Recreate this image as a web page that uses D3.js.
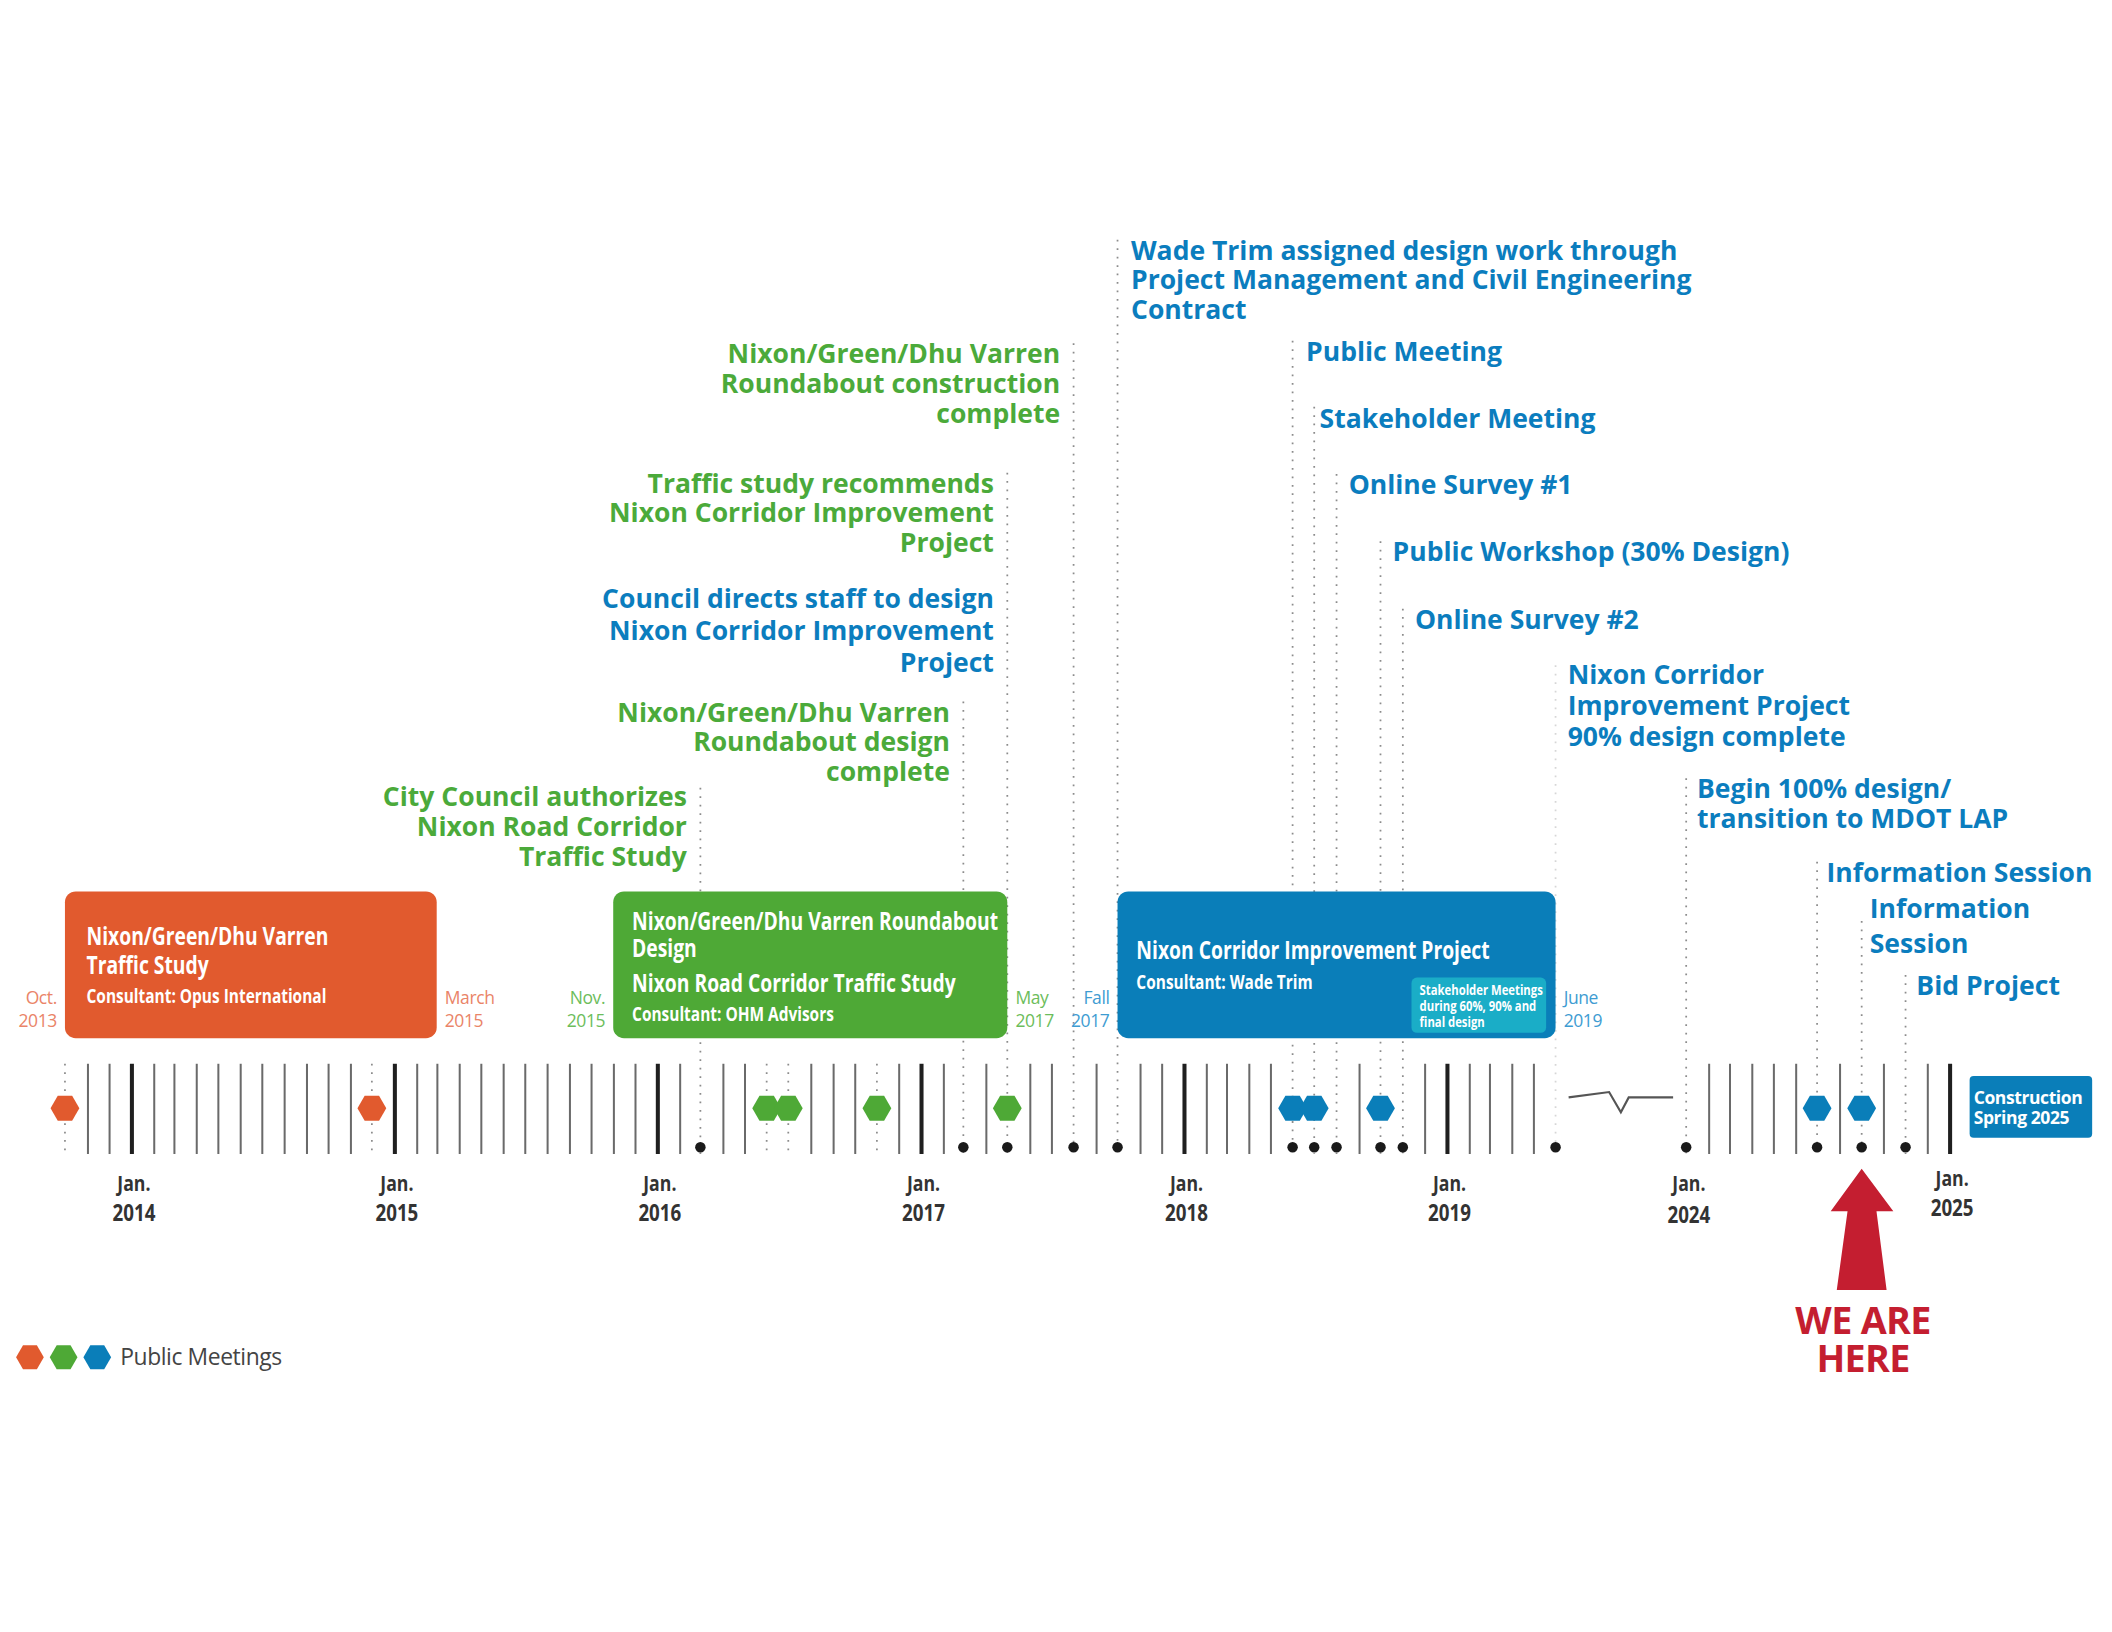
<!DOCTYPE html>
<html>
<head>
<meta charset="utf-8">
<script src="https://cdn.jsdelivr.net/npm/d3@7"></script>
<style>
  html, body { margin: 0; padding: 0; background: #fff; }
  svg { display: block; }
  .lbl { font-family: "Open Sans", "Noto Sans", sans-serif; font-weight: 700; font-size: 19.7px; }
  .box { font-family: "Open Sans", "Noto Sans", sans-serif; font-weight: 700; fill: #fff; }
  .date { font-family: "Open Sans", "Noto Sans", sans-serif; font-size: 13px; letter-spacing: -0.3px; }
  .axis-lbl { font-family: "Open Sans", "Noto Sans", sans-serif; font-weight: 700; fill: #333; }
</style>
</head>
<body>
<div id="chart"></div>
<script>
// ---- data ----
const phaseKeys = ["orange", "green", "blue"];
const phaseStart = ["2013-10", "2015-11", "2017-10"];
const phaseEnd = ["2015-03", "2017-05", "2019-06"];
const phaseTitles = [
    ["Nixon/Green/Dhu Varren", "Traffic Study"],
    ["Nixon/Green/Dhu Varren Roundabout", "Design", "Nixon Road Corridor Traffic Study"],
    ["Nixon Corridor Improvement Project"]
];
const phaseConsultants = ["Consultant: Opus International", "Consultant: OHM Advisors", "Consultant: Wade Trim"];
const phaseStartLabels = [["Oct.", "2013"], ["Nov.", "2015"], ["Fall", "2017"]];
const phaseEndLabels = [["March", "2015"], ["May", "2017"], ["June", "2019"]];
const stakeholderNote = ["Stakeholder Meetings", "during 60%, 90% and", "final design"];

const meetingDates = ["2013-10", "2014-12", "2016-06", "2016-07", "2016-11", "2017-05",
    "2018-06", "2018-07", "2018-10", "2024-07", "2024-09"];
const meetingPhase = ["orange", "orange", "green", "green", "green", "green",
    "blue", "blue", "blue", "blue", "blue"];

const milestoneDates = ["2016-03", "2017-03", "2017-05", "2017-08", "2017-10",
    "2018-06", "2018-07", "2018-08", "2018-10", "2018-11", "2019-06",
    "2024-01", "2024-07", "2024-09", "2024-11"];

const labelDates = ["2017-10", "2017-08", "2017-05", "2017-05", "2017-03", "2016-03",
    "2018-06", "2018-07", "2018-08", "2018-10", "2018-11", "2019-06",
    "2024-01", "2024-07", "2024-09", "2024-11"];
const labelPhase = ["blue", "green", "green", "blue", "green", "green",
    "blue", "blue", "blue", "blue", "blue", "blue",
    "blue", "blue", "blue", "blue"];
const labelTexts = [
    ["Wade Trim assigned design work through", "Project Management and Civil Engineering", "Contract"],
    ["Nixon/Green/Dhu Varren", "Roundabout construction", "complete"],
    ["Traffic study recommends", "Nixon Corridor Improvement", "Project"],
    ["Council directs staff to design", "Nixon Corridor Improvement", "Project"],
    ["Nixon/Green/Dhu Varren", "Roundabout design", "complete"],
    ["City Council authorizes", "Nixon Road Corridor", "Traffic Study"],
    ["Public Meeting"],
    ["Stakeholder Meeting"],
    ["Online Survey #1"],
    ["Public Workshop (30% Design)"],
    ["Online Survey #2"],
    ["Nixon Corridor", "Improvement Project", "90% design complete"],
    ["Begin 100% design/", "transition to MDOT LAP"],
    ["Information Session"],
    ["Information", "Session"],
    ["Bid Project"]
];

const yearTicks = ["2014-01", "2015-01", "2016-01", "2017-01", "2018-01", "2019-01", "2024-01", "2025-01"];
const segmentBounds = ["2013-10", "2019-06", "2024-01", "2025-01"];
const hereDate = "2024-09";
const constructionText = ["Construction", "Spring 2025"];
const legendText = "Public Meetings";

// ---- layout / style ----
const colors = { orange: "#E15A2E", green: "#4EA936", blue: "#0A7EB9" };
const textColors = { orange: "#E15A2E", green: "#4BAA3A", blue: "#0B7DBE" };
const dateColors = { orange: "#EA8468", green: "#6CBD5B", blue: "#3E9CD2" };

// label placement: side (1 right of line, -1 left), first line y, line gap, line top, dx
const labelLayout = [
    { side: 1, y: 186, gap: 22, top: 178, dx: 10 },
    { side: -1, y: 263, gap: 22, top: 255, dx: 10 },
    { side: -1, y: 359, gap: 22, top: 351, dx: 10 },
    { side: -1, y: 445, gap: 23.5, top: 351, dx: 10 },
    { side: -1, y: 529, gap: 22, top: 521, dx: 10 },
    { side: -1, y: 592, gap: 22, top: 585, dx: 10 },
    { side: 1, y: 261, gap: 22, top: 253, dx: 10 },
    { side: 1, y: 311, gap: 22, top: 302, dx: 4 },
    { side: 1, y: 360, gap: 22, top: 352, dx: 9 },
    { side: 1, y: 410, gap: 22, top: 402, dx: 9 },
    { side: 1, y: 460, gap: 22, top: 452, dx: 9 },
    { side: 1, y: 501, gap: 23, top: 494, dx: 9 },
    { side: 1, y: 586, gap: 22, top: 578, dx: 8 },
    { side: 1, y: 648, gap: 22, top: 640, dx: 7 },
    { side: 1, y: 675, gap: 26, top: 684, dx: 6 },
    { side: 1, y: 732, gap: 22, top: 724, dx: 8 }
];

const W = 1568, H = 1212;
const tickTop = 790, tickBottom = 857, hexY = 823, dotY = 852;
const boxTop = 662, boxBottom = 771;

const parse = d3.timeParse("%Y-%m");
const key = d => d3.timeFormat("%Y-%m")(d);

const x = d3.scaleTime()
    .domain(segmentBounds.map(parse))
    .range([48, 1155, 1252, 1447.5]);

const svg = d3.select("#chart").append("svg")
    .attr("width", 2112)
    .attr("height", 1632)
    .attr("viewBox", `0 0 ${W} ${H}`);

function hexPath(cx, cy, r) {
    const pts = d3.range(6).map(i => {
        const a = i * Math.PI / 3;
        return [cx + r * Math.cos(a), cy + r * Math.sin(a)];
    });
    return d3.line()(pts) + "Z";
}

// squeeze horizontally around x0 to mimic the condensed face of the original
const squeeze = (x0, k) => `translate(${x0},0) scale(${k},1) translate(${-x0},0)`;

// multi-line text: lines = [{t, y, size}]
function multiText(parent, x0, lines) {
    const txt = parent.append("text");
    lines.forEach(l => {
        const ts = txt.append("tspan").attr("x", x0).attr("y", l.y).attr("dy", "0.35em").text(l.t);
        if (l.size) ts.attr("font-size", l.size);
    });
    return txt;
}

// ---- month ticks ----
const eventMonths = new Set(meetingDates.concat(milestoneDates));
const seg1 = d3.timeMonth.range(parse("2013-10"), parse("2019-06"));
const seg2 = d3.timeMonth.range(parse("2024-01"), d3.timeMonth.offset(parse("2025-01"), 1));
const monthTicks = seg1.concat(seg2).filter(d => !eventMonths.has(key(d)));

const axis = d3.axisBottom(x)
    .tickValues(monthTicks)
    .tickSize(tickBottom - tickTop)
    .tickFormat("");

const axisG = svg.append("g")
    .attr("transform", `translate(0,${tickTop})`)
    .call(axis);
axisG.select(".domain").remove();
axisG.selectAll(".tick line")
    .attr("stroke", d => d.getMonth() === 0 ? "#1f1f1f" : "#6a6a6a")
    .attr("stroke-width", d => d.getMonth() === 0 ? 3 : 1.5);

// axis break squiggle
const xb0 = x(parse("2019-06")), xb1 = x(parse("2024-01"));
const bw = xb1 - xb0;
svg.append("path")
    .attr("d", d3.line()([
        [xb0 + bw * 0.10, 815], [xb0 + bw * 0.41, 811], [xb0 + bw * 0.50, 826],
        [xb0 + bw * 0.56, 815], [xb0 + bw * 0.90, 815]
    ]))
    .attr("fill", "none")
    .attr("stroke", "#555")
    .attr("stroke-width", 1.6);

// ---- dotted event lines ----
const lineTops = {};
labelDates.forEach((d, i) => {
    const t = labelLayout[i].top;
    lineTops[d] = lineTops[d] === undefined ? t : Math.min(lineTops[d], t);
});
Array.from(eventMonths).forEach(d => {
    const top = lineTops[d] !== undefined ? lineTops[d] : tickTop;
    svg.append("line")
        .attr("x1", x(parse(d))).attr("x2", x(parse(d)))
        .attr("y1", top).attr("y2", tickBottom)
        .attr("stroke", d === "2019-06" ? "#d6d6d6" : "#8c8c8c")
        .attr("stroke-width", 1.3)
        .attr("stroke-dasharray", "1.3 5");
});

// ---- phase boxes ----
const titleRows = [[695, 717], [684, 704, 730], [706]];
const consultantRows = [740, 753, 729];
phaseKeys.forEach((p, i) => {
    const x0 = x(parse(phaseStart[i])), x1 = x(parse(phaseEnd[i]));
    svg.append("rect")
        .attr("x", x0).attr("y", boxTop)
        .attr("width", x1 - x0).attr("height", boxBottom - boxTop)
        .attr("rx", 8)
        .attr("fill", colors[p]);

    const tx = x0 + (i === 0 ? 16 : 14);
    const lines = phaseTitles[i].map((t, j) => ({ t, y: titleRows[i][j], size: 18.5 }))
        .concat([{ t: phaseConsultants[i], y: consultantRows[i], size: 14.8 }]);
    multiText(svg, tx, lines)
        .attr("class", "box")
        .attr("transform", squeeze(tx, 0.775));

    multiText(svg, x0 - 6, phaseStartLabels[i].map((t, j) => ({ t, y: 741 + j * 17 })))
        .attr("class", "date").attr("text-anchor", "end").attr("fill", dateColors[p]);
    multiText(svg, x1 + 6, phaseEndLabels[i].map((t, j) => ({ t, y: 741 + j * 17 })))
        .attr("class", "date").attr("fill", dateColors[p]);
});

// stakeholder note inside blue box
const bx1 = x(parse(phaseEnd[2]));
svg.append("rect")
    .attr("x", bx1 - 107).attr("y", 726)
    .attr("width", 100).attr("height", 41)
    .attr("rx", 4).attr("fill", "#1AADC7");
multiText(svg, bx1 - 101, stakeholderNote.map((t, j) => ({ t, y: 735 + j * 12 })))
    .attr("class", "box").attr("font-size", 10.5)
    .attr("transform", squeeze(bx1 - 101, 0.8));

// ---- meeting hexagons ----
svg.append("g").selectAll("path")
    .data(meetingDates)
    .join("path")
    .attr("d", d => hexPath(x(parse(d)), hexY, 10.7))
    .attr("fill", (d, i) => colors[meetingPhase[i]]);

// ---- milestone dots ----
svg.append("g").selectAll("circle")
    .data(milestoneDates)
    .join("circle")
    .attr("cx", d => x(parse(d)))
    .attr("cy", dotY)
    .attr("r", 3.9)
    .attr("fill", "#1a1a1a");

// ---- event labels ----
labelDates.forEach((d, i) => {
    const L = labelLayout[i];
    const lx = x(parse(d)) + L.side * L.dx;
    multiText(svg, lx, labelTexts[i].map((t, j) => ({ t, y: L.y + j * L.gap })))
        .attr("class", "lbl")
        .attr("text-anchor", L.side < 0 ? "end" : "start")
        .attr("fill", textColors[labelPhase[i]]);
});

// ---- year labels ----
yearTicks.forEach(d => {
    const px = x(parse(d)) + 2;
    const dy = d === "2025-01" ? -4 : 0;
    multiText(svg, px, [
        { t: "Jan.", y: 879 + dy, size: 16 },
        { t: d.slice(0, 4), y: 901 + dy + (d === "2024-01" ? 1 : 0), size: 17 }
    ])
        .attr("class", "axis-lbl")
        .attr("text-anchor", "middle")
        .attr("transform", squeeze(px, 0.82));
});

// ---- construction box ----
const cx0 = x(parse("2025-01")) + 15;
svg.append("rect")
    .attr("x", cx0).attr("y", 799)
    .attr("width", 91).attr("height", 46)
    .attr("rx", 3).attr("fill", colors.blue);
multiText(svg, cx0 + 3, constructionText.map((t, j) => ({ t, y: 815 + j * 15.5 })))
    .attr("font-family", "'Open Sans', sans-serif").attr("font-weight", 700)
    .attr("font-size", 13).attr("letter-spacing", -0.3)
    .attr("fill", "#fff");

// ---- we are here ----
const hx = x(parse(hereDate));
svg.append("path")
    .attr("d", d3.line()([
        [hx, 868], [hx + 23.5, 899.5], [hx + 11, 899.5], [hx + 18.5, 958],
        [hx - 18.5, 958], [hx - 10.5, 899.5], [hx - 23, 899.5]
    ]) + "Z")
    .attr("fill", "#C41E30");
multiText(svg, hx + 1, [{ t: "WE ARE", y: 981 }, { t: "HERE", y: 1009 }])
    .attr("text-anchor", "middle")
    .attr("font-family", "'Open Sans', sans-serif").attr("font-weight", 700)
    .attr("font-size", 28).attr("letter-spacing", -0.5)
    .attr("fill", "#C41E30");

// ---- legend ----
phaseKeys.forEach((p, i) => {
    svg.append("path")
        .attr("d", hexPath(22 + i * 25, 1008, 10.3))
        .attr("fill", colors[p]);
});
svg.append("text")
    .attr("x", 89).attr("y", 1008).attr("dy", "0.35em")
    .attr("font-family", "'Open Sans', sans-serif")
    .attr("font-size", 17).attr("letter-spacing", -0.3)
    .attr("fill", "#444").text(legendText);
</script>
</body>
</html>
